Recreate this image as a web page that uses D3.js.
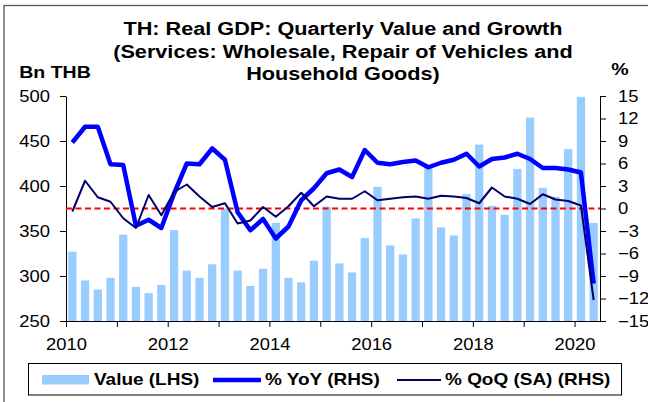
<!DOCTYPE html>
<html><head><meta charset="utf-8">
<script src="https://cdn.jsdelivr.net/npm/d3@7"></script>
<style>body{margin:0;background:#fff} svg{display:block} text{font-family:"Liberation Sans",Arial,sans-serif;fill:#000}</style>
</head><body><svg id="c" width="648" height="402"></svg>
<script>
const quarters = [
 "2010Q1","2010Q2","2010Q3","2010Q4","2011Q1","2011Q2","2011Q3","2011Q4",
 "2012Q1","2012Q2","2012Q3","2012Q4","2013Q1","2013Q2","2013Q3","2013Q4",
 "2014Q1","2014Q2","2014Q3","2014Q4","2015Q1","2015Q2","2015Q3","2015Q4",
 "2016Q1","2016Q2","2016Q3","2016Q4","2017Q1","2017Q2","2017Q3","2017Q4",
 "2018Q1","2018Q2","2018Q3","2018Q4","2019Q1","2019Q2","2019Q3","2019Q4",
 "2020Q1","2020Q2"];
const valueLHS = [327,295,285,298,346,288,281,290,351,306,298,313,
 375,306,289,308,359,298,293,317,377,314,304,342,
 399,334,324,364,421,354,345,391,446,378,368,419,
 476,398,388,441,499,359];
const yoyRHS = [8.8,10.9,10.9,5.9,5.8,-2.3,-1.5,-2.6,2.0,6.0,5.9,8.0,
 6.5,-0.5,-2.9,-1.4,-4.0,-2.4,1.1,2.7,4.7,5.2,4.2,7.8,
 6.1,5.9,6.2,6.4,5.5,6.1,6.5,7.3,5.6,6.6,6.8,7.3,
 6.6,5.4,5.4,5.2,4.8,-10.0];
const qoqRHS = [-0.4,3.7,1.5,0.9,-1.3,-2.6,1.8,-0.9,2.2,3.2,1.6,0.2,
 0.7,-2.0,-1.6,0.2,-1.1,0.3,2.1,0.3,1.6,1.3,1.3,2.3,
 1.1,1.3,1.5,1.6,1.3,1.7,1.6,1.4,0.7,2.8,1.6,1.3,
 0.6,1.9,1.2,1.0,0.4,-12.2];
const leftTicks = [250,300,350,400,450,500];
const rightTicks = [-15,-12,-9,-6,-3,0,3,6,9,12,15];
const yearTicks = [2010,2011,2012,2013,2014,2015,2016,2017,2018,2019,2020];
const yearLabels = ["2010","","2012","","2014","","2016","","2018","","2020"];
const titleLines = ["TH: Real GDP: Quarterly Value and Growth",
 "(Services: Wholesale, Repair of Vehicles and",
 "Household Goods)"];
const legendLabels = ["Value (LHS)","% YoY (RHS)","% QoQ (SA) (RHS)"];

const svg = d3.select("#c");
const SX = 1.15;
const x = d3.scaleLinear().domain([2010, 2020.5]).range([66, 600]);
const yL = d3.scaleLinear().domain([250, 500]).range([321, 96]);
const yR = d3.scaleLinear().domain([-15, 15]).range([321, 96]);
const qPos = q => x(+q.slice(0,4) + (+q.slice(5) - 0.5) / 4);
const qStep = x(2010.25) - x(2010);
const barW = qStep * 0.65;

function stext(px, py, str, size, weight, anchor, sx) {
  return svg.append("text")
    .attr("transform", `translate(${px},${py}) scale(${sx || SX},1)`)
    .attr("text-anchor", anchor).attr("font-size", size)
    .attr("font-weight", weight).text(str);
}

// outer frame
svg.append("rect").attr("x", 4).attr("y", 5.5).attr("width", 700).attr("height", 500)
  .attr("fill", "none").attr("stroke", "#555").attr("stroke-width", 1.3);

// bars
svg.append("g").selectAll("rect").data(quarters).join("rect")
  .attr("x", (q) => qPos(q) - barW / 2)
  .attr("y", (q, i) => yL(valueLHS[i]))
  .attr("width", barW)
  .attr("height", (q, i) => yL(250) - yL(valueLHS[i]))
  .attr("fill", "#99ccff");

// axes
function styleAxis(g) {
  g.attr("font-size", null).attr("font-family", null);
  g.selectAll(".domain").attr("stroke", "#000").attr("stroke-width", 1);
  g.selectAll(".tick line").attr("stroke", "#000");
  g.selectAll(".tick text").attr("font-size", 16).attr("fill", "#000");
}
const gL = svg.append("g").attr("transform", "translate(66,0)")
  .call(d3.axisLeft(yL).tickValues(leftTicks).tickSize(6).tickSizeOuter(0).tickPadding(7.9));
styleAxis(gL);
gL.selectAll(".tick text").attr("transform", `scale(${SX},1)`);

const gR = svg.append("g").attr("transform", "translate(600,0)")
  .call(d3.axisRight(yR).tickValues(rightTicks).tickSize(6).tickSizeOuter(0).tickPadding(9.6));
styleAxis(gR);
gR.selectAll(".tick text").attr("transform", `scale(${SX},1)`);

const gB = svg.append("g").attr("transform", "translate(0,321)")
  .call(d3.axisBottom(x).tickValues(yearTicks).tickSize(6).tickSizeOuter(0).tickPadding(12)
    .tickFormat((d, i) => yearLabels[i]));
styleAxis(gB);
gB.selectAll(".tick text").attr("transform", `scale(${SX},1)`);

// zero line
svg.append("line").attr("x1", 66).attr("x2", 600).attr("y1", yR(0)).attr("y2", yR(0))
  .attr("stroke", "#ff0000").attr("stroke-width", 2).attr("stroke-dasharray", "6,3.5");

// lines
const lineGen = arr => d3.line().x((q) => qPos(q)).y((q, i) => yR(arr[i]))(quarters);
svg.append("path").attr("d", lineGen(yoyRHS)).attr("fill", "none")
  .attr("stroke", "#0000ff").attr("stroke-width", 4.5).attr("stroke-linejoin", "round");
svg.append("path").attr("d", lineGen(qoqRHS)).attr("fill", "none")
  .attr("stroke", "#000066").attr("stroke-width", 2).attr("stroke-linejoin", "round");

// titles
titleLines.forEach((t, i) => stext(343, [34.5, 57.5, 80][i], t, 19, "bold", "middle", 1.14));
stext(55, 78, "Bn THB", 17, "bold", "middle");
stext(620, 75, "%", 17, "bold", "middle");

// legend
svg.append("rect").attr("x", 28.5).attr("y", 363.5).attr("width", 593).attr("height", 31.5)
  .attr("fill", "#fff").attr("stroke", "#000").attr("stroke-width", 1);
svg.append("rect").attr("x", 42).attr("y", 375).attr("width", 47).attr("height", 9.5).attr("fill", "#99ccff");
stext(94, 385, legendLabels[0], 16.5, "bold", "start");
svg.append("line").attr("x1", 213).attr("x2", 261).attr("y1", 380).attr("y2", 380)
  .attr("stroke", "#0000ff").attr("stroke-width", 4.5);
stext(265, 385, legendLabels[1], 16.5, "bold", "start");
svg.append("line").attr("x1", 397).attr("x2", 441).attr("y1", 380).attr("y2", 380)
  .attr("stroke", "#000066").attr("stroke-width", 2);
stext(445, 385, legendLabels[2], 16.5, "bold", "start");
</script></body></html>
